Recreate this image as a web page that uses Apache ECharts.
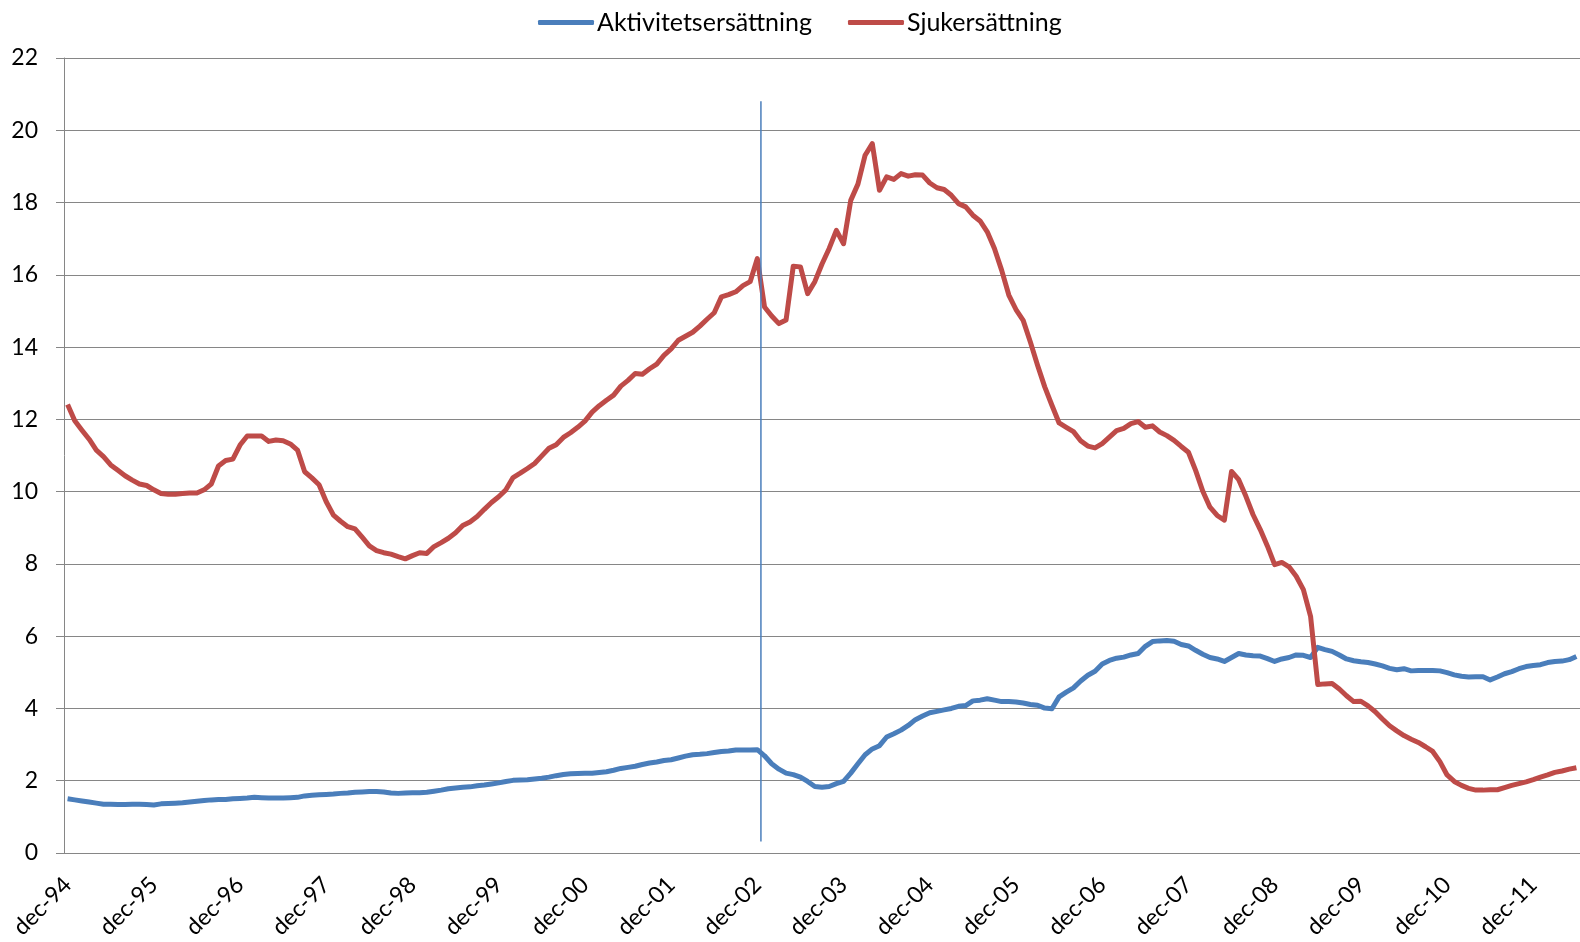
<!DOCTYPE html>
<html>
<head>
<meta charset="utf-8">
<title>Aktivitetsersättning och sjukersättning</title>
<script src="https://cdn.jsdelivr.net/npm/echarts@6/dist/echarts.min.js"></script>
<style>
  html, body { margin: 0; padding: 0; background: #ffffff; }
  #DataChart { width: 1580px; height: 942px; }
</style>
</head>
<body>
<div id="DataChart"></div>
<script>
// månader dec-94 .. jun-12, en kategori per månad
var monthNames = ['jan', 'feb', 'mar', 'apr', 'maj', 'jun', 'jul', 'aug', 'sep', 'okt', 'nov', 'dec'];
var categories = [];
for (var k = 0; k < 211; k++) {
    var m = (11 + k) % 12;
    var y = (94 + Math.floor((11 + k) / 12)) % 100;
    categories.push(monthNames[m] + '-' + (y < 10 ? '0' + y : '' + y));
}

var aktivitet = [
    1.50, 1.47, 1.44, 1.41, 1.38, 1.35, 1.35, 1.34, 1.34, 1.35, 1.35, 1.34,
    1.33, 1.36, 1.37, 1.38, 1.39, 1.41, 1.43, 1.45, 1.47, 1.48, 1.48, 1.50,
    1.51, 1.52, 1.54, 1.53, 1.52, 1.52, 1.52, 1.53, 1.54, 1.58, 1.60, 1.61,
    1.62, 1.63, 1.65, 1.66, 1.68, 1.69, 1.70, 1.70, 1.69, 1.66, 1.65, 1.66,
    1.67, 1.67, 1.68, 1.71, 1.74, 1.78, 1.80, 1.82, 1.83, 1.86, 1.88, 1.91,
    1.94, 1.98, 2.01, 2.02, 2.03, 2.05, 2.07, 2.10, 2.14, 2.17, 2.19, 2.20,
    2.21, 2.21, 2.23, 2.25, 2.29, 2.34, 2.37, 2.40, 2.45, 2.49, 2.52, 2.56,
    2.58, 2.63, 2.68, 2.72, 2.73, 2.75, 2.78, 2.81, 2.82, 2.85, 2.85, 2.85,
    2.86, 2.69, 2.47, 2.32, 2.21, 2.17, 2.10, 1.98, 1.84, 1.82, 1.84, 1.92,
    1.98, 2.21, 2.47, 2.72, 2.88, 2.97, 3.21, 3.30, 3.40, 3.53, 3.69, 3.79,
    3.88, 3.92, 3.96, 4.00, 4.06, 4.08, 4.21, 4.23, 4.27, 4.23, 4.19, 4.19,
    4.18, 4.15, 4.11, 4.09, 4.01, 3.99, 4.32, 4.45, 4.57, 4.76, 4.92, 5.03,
    5.23, 5.33, 5.39, 5.42, 5.48, 5.52, 5.72, 5.85, 5.87, 5.88, 5.86, 5.77,
    5.73, 5.61, 5.50, 5.41, 5.37, 5.30, 5.41, 5.52, 5.48, 5.46, 5.45, 5.38,
    5.30, 5.37, 5.41, 5.48, 5.47, 5.41, 5.69, 5.63, 5.58, 5.48, 5.37, 5.32,
    5.29, 5.27, 5.23, 5.18, 5.11, 5.07, 5.10, 5.04, 5.05, 5.05, 5.05, 5.04,
    4.99, 4.93, 4.89, 4.87, 4.88, 4.88, 4.79, 4.87, 4.96, 5.02, 5.10, 5.16,
    5.19, 5.21, 5.27, 5.30, 5.31, 5.35, 5.44
];

var sjuk = [
    12.41, 11.96, 11.70, 11.45, 11.15, 10.97, 10.74, 10.59, 10.44, 10.32, 10.21, 10.17,
    10.05, 9.95, 9.93, 9.93, 9.95, 9.96, 9.96, 10.05, 10.21, 10.71, 10.86, 10.90,
    11.29, 11.54, 11.54, 11.54, 11.39, 11.43, 11.41, 11.32, 11.15, 10.55, 10.38, 10.19,
    9.72, 9.35, 9.18, 9.03, 8.97, 8.74, 8.50, 8.37, 8.31, 8.27, 8.20, 8.14,
    8.23, 8.31, 8.29, 8.48, 8.59, 8.71, 8.86, 9.06, 9.16, 9.31, 9.51, 9.70,
    9.86, 10.05, 10.39, 10.51, 10.64, 10.78, 10.99, 11.20, 11.30, 11.50, 11.63, 11.78,
    11.95, 12.20, 12.38, 12.53, 12.67, 12.92, 13.08, 13.27, 13.25, 13.40, 13.53, 13.77,
    13.95, 14.19, 14.30, 14.41, 14.58, 14.77, 14.95, 15.39, 15.45, 15.53, 15.70, 15.81,
    16.45, 15.11, 14.86, 14.65, 14.75, 16.24, 16.22, 15.48, 15.81, 16.30, 16.73, 17.23,
    16.86, 18.06, 18.51, 19.31, 19.63, 18.34, 18.71, 18.64, 18.80, 18.73, 18.77, 18.76,
    18.54, 18.41, 18.36, 18.20, 17.97, 17.88, 17.65, 17.49, 17.19, 16.73, 16.13, 15.44,
    15.04, 14.74, 14.14, 13.50, 12.90, 12.39, 11.90, 11.78, 11.66, 11.41, 11.26, 11.21,
    11.33, 11.51, 11.69, 11.75, 11.88, 11.94, 11.78, 11.82, 11.65, 11.55, 11.42, 11.25,
    11.09, 10.59, 10.01, 9.57, 9.34, 9.21, 10.56, 10.33, 9.87, 9.36, 8.95, 8.49,
    7.98, 8.04, 7.92, 7.66, 7.29, 6.55, 4.66, 4.68, 4.69, 4.54, 4.35, 4.19,
    4.20, 4.07, 3.91, 3.71, 3.52, 3.38, 3.25, 3.15, 3.06, 2.94, 2.81, 2.53,
    2.16, 1.98, 1.87, 1.79, 1.74, 1.74, 1.75, 1.75, 1.81, 1.87, 1.92, 1.97,
    2.03, 2.10, 2.16, 2.23, 2.27, 2.32, 2.36
];

// lodrät markering mellan dec-02 och jan-03 (position i månader, y-värden)
var markerX = [97, 97];
var markerY = [0.32, 20.8];

var yTicks = { min: 0, max: 22, interval: 2 };

var myChart = echarts.init(document.getElementById('DataChart'));

var fontFam = 'Lato, "Open Sans", sans-serif';

var option = {
    animation: false,
    backgroundColor: '#ffffff',
    legend: {
        data: ['Aktivitetsersättning', 'Sjukersättning'],
        left: 533,
        top: 5,
        icon: 'roundRect',
        itemWidth: 56,
        itemHeight: 5,
        itemGap: 36,
        textStyle: {
            color: '#000000',
            fontSize: 25,
            fontFamily: fontFam,
            padding: [0, 0, 0, -2]
        }
    },
    grid: {
        left: 64,
        right: 0,
        top: 58,
        bottom: 89,
        containLabel: false
    },
    xAxis: [
        {
            type: 'category',
            data: categories,
            boundaryGap: true,
            axisLine: { lineStyle: { color: '#868686', width: 1 } },
            axisTick: {
                interval: 11,
                length: 8,
                lineStyle: { color: '#868686', width: 1 }
            },
            axisLabel: {
                interval: 11,
                rotate: 45,
                margin: 28,
                color: '#000000',
                fontSize: 23,
                fontFamily: fontFam
            },
            splitLine: { show: false }
        },
        {
            type: 'value',
            min: 0,
            max: categories.length,
            show: false
        }
    ],
    yAxis: {
        type: 'value',
        min: yTicks.min,
        max: yTicks.max,
        interval: yTicks.interval,
        axisLine: { show: true, lineStyle: { color: '#868686', width: 1 } },
        axisTick: { show: true, length: 8, lineStyle: { color: '#868686', width: 1 } },
        axisLabel: {
            margin: 26,
            color: '#000000',
            fontSize: 23,
            fontFamily: fontFam
        },
        splitLine: { lineStyle: { color: '#868686', width: 1 } }
    },
    series: [
        {
            name: 'Aktivitetsersättning',
            type: 'line',
            data: aktivitet,
            symbol: 'none',
            itemStyle: { color: '#4A7EBB' },
            lineStyle: { color: '#4A7EBB', width: 5, join: 'round' },
            z: 3
        },
        {
            name: 'Sjukersättning',
            type: 'line',
            data: sjuk,
            symbol: 'none',
            itemStyle: { color: '#BE4B48' },
            lineStyle: { color: '#BE4B48', width: 5, join: 'round' },
            z: 3
        },
        {
            name: 'markering',
            type: 'line',
            xAxisIndex: 1,
            data: [[markerX[0], markerY[0]], [markerX[1], markerY[1]]],
            symbol: 'none',
            silent: true,
            lineStyle: { color: '#4A7EBB', width: 1.5 },
            z: 4
        }
    ]
};

myChart.setOption(option);
</script>
</body>
</html>
